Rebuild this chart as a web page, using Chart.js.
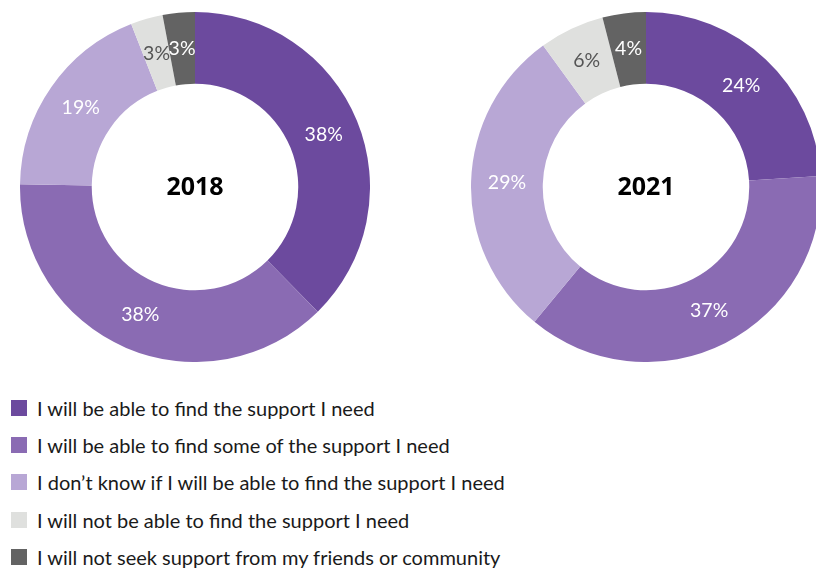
<!DOCTYPE html>
<html>
<head>
<meta charset="utf-8">
<script src="https://cdn.jsdelivr.net/npm/chart.js@4"></script>
<style>
  html, body { margin:0; padding:0; width:816px; height:570px; overflow:hidden; background:#fff; }
  .wrap { position:absolute; width:350px; height:350px; top:12px; }
  #w1 { left:20px; }
  #w2 { left:471px; }
  #legend { position:absolute; left:11px; top:389px; font-family:"Lato", sans-serif; font-size:20px; color:#1a1a1a; }
  .row { display:flex; align-items:center; height:37.3px; }
  .sw { width:16px; height:16px; margin-right:10px; flex:none; }
</style>
</head>
<body>
<div class="wrap" id="w1"><canvas id="c1"></canvas></div>
<div class="wrap" id="w2"><canvas id="c2"></canvas></div>
<div id="legend"></div>
<script>
const categories = [
  "I will be able to find the support I need",
  "I will be able to find some of the support I need",
  "I don\u2019t know if I will be able to find the support I need",
  "I will not be able to find the support I need",
  "I will not seek support from my friends or community"
];
const values2018 = [38, 38, 19, 3, 3];
const values2021 = [24, 37, 29, 6, 4];
const years = ["2018", "2021"];
const colors = ["#6c4a9e", "#8a6bb3", "#b8a7d5", "#dfe0de", "#636363"];
const labelColors = ["#ffffff", "#ffffff", "#ffffff", "#555555", "#ffffff"];

const labelPlugin = {
  id: 'sliceLabels',
  afterDatasetsDraw(chart) {
    const ctx = chart.ctx;
    const meta = chart.getDatasetMeta(0);
    const data = chart.data.datasets[0].data;
    ctx.save();
    ctx.font = '19.5px "Lato", sans-serif';
    ctx.textAlign = 'center';
    ctx.textBaseline = 'middle';
    meta.data.forEach((arc, i) => {
      const p = arc.getCenterPoint();
      ctx.fillStyle = labelColors[i];
      ctx.fillText(data[i] + '%', p.x, p.y);
    });
    const a = meta.data[0];
    ctx.font = 'bold 25px "Noto Sans", sans-serif';
    ctx.fillStyle = '#000';
    ctx.fillText(chart.options.plugins.centerTitle, a.x, a.y + 1);
    ctx.restore();
  }
};

function makeChart(id, values, year) {
  return new Chart(document.getElementById(id), {
    type: 'doughnut',
    data: {
      labels: categories,
      datasets: [{ data: values, backgroundColor: colors, borderWidth: 0 }]
    },
    options: {
      responsive: true,
      maintainAspectRatio: false,
      animation: false,
      cutout: '59%',
      layout: { padding: 0 },
      plugins: { legend: { display: false }, tooltip: { enabled: false }, centerTitle: year }
    },
    plugins: [labelPlugin]
  });
}
makeChart('c1', values2018, years[0]);
makeChart('c2', values2021, years[1]);

const leg = document.getElementById('legend');
categories.forEach((c, i) => {
  const r = document.createElement('div');
  r.className = 'row';
  const s = document.createElement('span');
  s.className = 'sw';
  s.style.background = colors[i];
  const t = document.createElement('span');
  t.textContent = c;
  r.appendChild(s); r.appendChild(t);
  leg.appendChild(r);
});
</script>
</body>
</html>
